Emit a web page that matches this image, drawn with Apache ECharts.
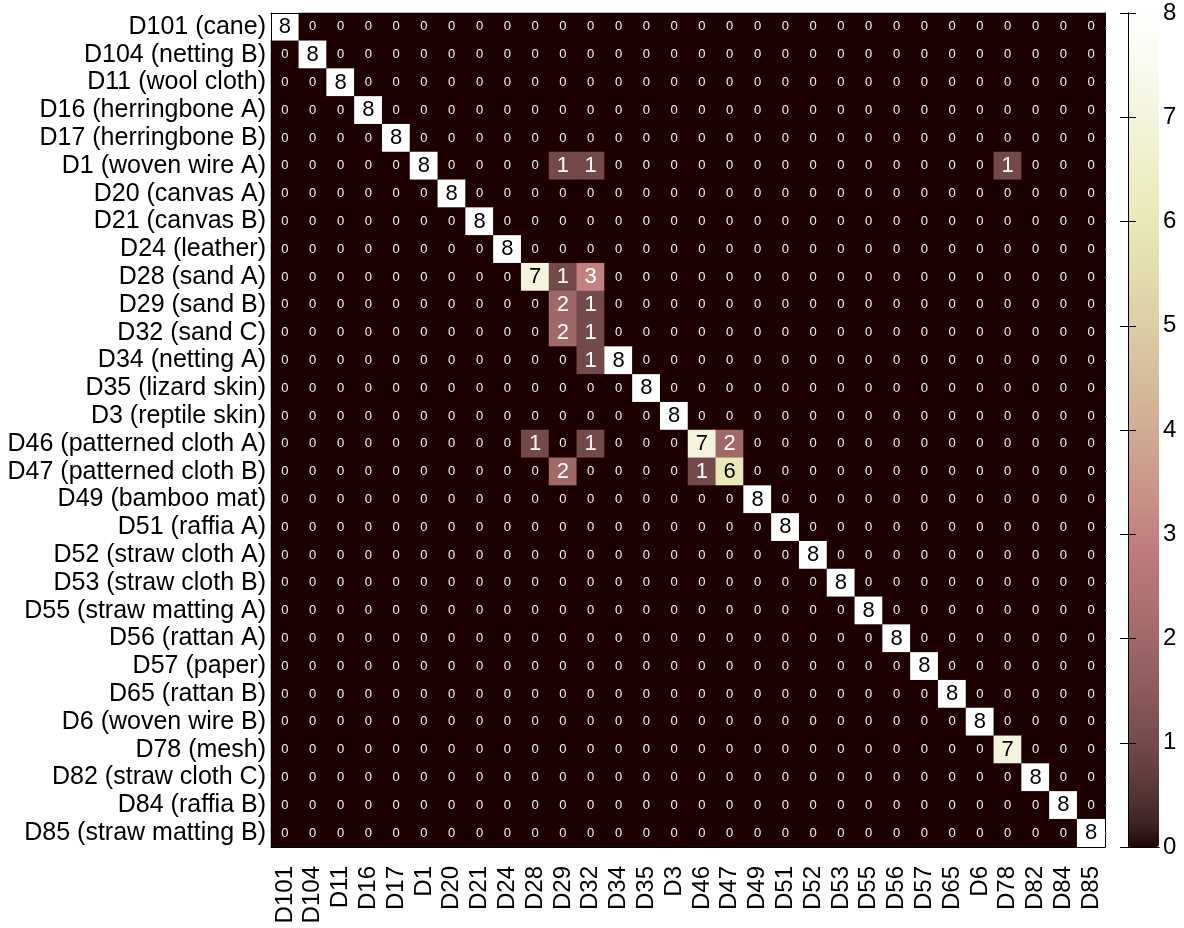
<!DOCTYPE html>
<html>
<head>
<meta charset="utf-8">
<script src="https://cdn.jsdelivr.net/npm/echarts@6/dist/echarts.min.js"></script>
<style>
  html, body { margin: 0; padding: 0; background: #fff; }
  #chart { width: 1184px; height: 928px; }
</style>
</head>
<body>
<div id="chart"></div>
<script>
const rowLabels = [
  'D101 (cane)', 'D104 (netting B)', 'D11 (wool cloth)', 'D16 (herringbone A)', 'D17 (herringbone B)',
  'D1 (woven wire A)', 'D20 (canvas A)', 'D21 (canvas B)', 'D24 (leather)', 'D28 (sand A)',
  'D29 (sand B)', 'D32 (sand C)', 'D34 (netting A)', 'D35 (lizard skin)', 'D3 (reptile skin)',
  'D46 (patterned cloth A)', 'D47 (patterned cloth B)', 'D49 (bamboo mat)', 'D51 (raffia A)', 'D52 (straw cloth A)',
  'D53 (straw cloth B)', 'D55 (straw matting A)', 'D56 (rattan A)', 'D57 (paper)', 'D65 (rattan B)',
  'D6 (woven wire B)', 'D78 (mesh)', 'D82 (straw cloth C)', 'D84 (raffia B)', 'D85 (straw matting B)'
];
const colLabels = [
  'D101', 'D104', 'D11', 'D16', 'D17', 'D1', 'D20', 'D21', 'D24', 'D28',
  'D29', 'D32', 'D34', 'D35', 'D3', 'D46', 'D47', 'D49', 'D51', 'D52',
  'D53', 'D55', 'D56', 'D57', 'D65', 'D6', 'D78', 'D82', 'D84', 'D85'
];
const colorbarTicks = [0, 1, 2, 3, 4, 5, 6, 7, 8];
const confusion = [
  [8,0,0,0,0,0,0,0,0,0, 0,0,0,0,0,0,0,0,0,0, 0,0,0,0,0,0,0,0,0,0],
  [0,8,0,0,0,0,0,0,0,0, 0,0,0,0,0,0,0,0,0,0, 0,0,0,0,0,0,0,0,0,0],
  [0,0,8,0,0,0,0,0,0,0, 0,0,0,0,0,0,0,0,0,0, 0,0,0,0,0,0,0,0,0,0],
  [0,0,0,8,0,0,0,0,0,0, 0,0,0,0,0,0,0,0,0,0, 0,0,0,0,0,0,0,0,0,0],
  [0,0,0,0,8,0,0,0,0,0, 0,0,0,0,0,0,0,0,0,0, 0,0,0,0,0,0,0,0,0,0],
  [0,0,0,0,0,8,0,0,0,0, 1,1,0,0,0,0,0,0,0,0, 0,0,0,0,0,0,1,0,0,0],
  [0,0,0,0,0,0,8,0,0,0, 0,0,0,0,0,0,0,0,0,0, 0,0,0,0,0,0,0,0,0,0],
  [0,0,0,0,0,0,0,8,0,0, 0,0,0,0,0,0,0,0,0,0, 0,0,0,0,0,0,0,0,0,0],
  [0,0,0,0,0,0,0,0,8,0, 0,0,0,0,0,0,0,0,0,0, 0,0,0,0,0,0,0,0,0,0],
  [0,0,0,0,0,0,0,0,0,7, 1,3,0,0,0,0,0,0,0,0, 0,0,0,0,0,0,0,0,0,0],
  [0,0,0,0,0,0,0,0,0,0, 2,1,0,0,0,0,0,0,0,0, 0,0,0,0,0,0,0,0,0,0],
  [0,0,0,0,0,0,0,0,0,0, 2,1,0,0,0,0,0,0,0,0, 0,0,0,0,0,0,0,0,0,0],
  [0,0,0,0,0,0,0,0,0,0, 0,1,8,0,0,0,0,0,0,0, 0,0,0,0,0,0,0,0,0,0],
  [0,0,0,0,0,0,0,0,0,0, 0,0,0,8,0,0,0,0,0,0, 0,0,0,0,0,0,0,0,0,0],
  [0,0,0,0,0,0,0,0,0,0, 0,0,0,0,8,0,0,0,0,0, 0,0,0,0,0,0,0,0,0,0],
  [0,0,0,0,0,0,0,0,0,1, 0,1,0,0,0,7,2,0,0,0, 0,0,0,0,0,0,0,0,0,0],
  [0,0,0,0,0,0,0,0,0,0, 2,0,0,0,0,1,6,0,0,0, 0,0,0,0,0,0,0,0,0,0],
  [0,0,0,0,0,0,0,0,0,0, 0,0,0,0,0,0,0,8,0,0, 0,0,0,0,0,0,0,0,0,0],
  [0,0,0,0,0,0,0,0,0,0, 0,0,0,0,0,0,0,0,8,0, 0,0,0,0,0,0,0,0,0,0],
  [0,0,0,0,0,0,0,0,0,0, 0,0,0,0,0,0,0,0,0,8, 0,0,0,0,0,0,0,0,0,0],
  [0,0,0,0,0,0,0,0,0,0, 0,0,0,0,0,0,0,0,0,0, 8,0,0,0,0,0,0,0,0,0],
  [0,0,0,0,0,0,0,0,0,0, 0,0,0,0,0,0,0,0,0,0, 0,8,0,0,0,0,0,0,0,0],
  [0,0,0,0,0,0,0,0,0,0, 0,0,0,0,0,0,0,0,0,0, 0,0,8,0,0,0,0,0,0,0],
  [0,0,0,0,0,0,0,0,0,0, 0,0,0,0,0,0,0,0,0,0, 0,0,0,8,0,0,0,0,0,0],
  [0,0,0,0,0,0,0,0,0,0, 0,0,0,0,0,0,0,0,0,0, 0,0,0,0,8,0,0,0,0,0],
  [0,0,0,0,0,0,0,0,0,0, 0,0,0,0,0,0,0,0,0,0, 0,0,0,0,0,8,0,0,0,0],
  [0,0,0,0,0,0,0,0,0,0, 0,0,0,0,0,0,0,0,0,0, 0,0,0,0,0,0,7,0,0,0],
  [0,0,0,0,0,0,0,0,0,0, 0,0,0,0,0,0,0,0,0,0, 0,0,0,0,0,0,0,8,0,0],
  [0,0,0,0,0,0,0,0,0,0, 0,0,0,0,0,0,0,0,0,0, 0,0,0,0,0,0,0,0,8,0],
  [0,0,0,0,0,0,0,0,0,0, 0,0,0,0,0,0,0,0,0,0, 0,0,0,0,0,0,0,0,0,8]
];

// MATLAB-style "pink" colormap (64 levels)
function pinkMap(m) {
  const n = Math.floor(3 / 8 * m);
  const out = [];
  for (let i = 1; i <= m; i++) {
    const g = (i - 1) / (m - 1);
    const hr = i <= n ? i / n : 1;
    const hg = i <= n ? 0 : (i <= 2 * n ? (i - n) / n : 1);
    const hb = i <= 2 * n ? 0 : (i - 2 * n) / (m - 2 * n);
    const c = [hr, hg, hb].map(h => Math.round(255 * Math.sqrt((2 * g + h) / 3)));
    out.push('rgb(' + c.join(',') + ')');
  }
  return out;
}
const pink = pinkMap(64);

const cells = [];
confusion.forEach((row, r) => row.forEach((v, c) => cells.push([c, r, v])));

const FONT = '"Liberation Sans", Arial, Helvetica, sans-serif';
const G = { left: 271, top: 13, width: 834, height: 834 };
const CB = { left: 1128, top: 13, width: 31, height: 834 };

const chart = echarts.init(document.getElementById('chart'), null, { renderer: 'canvas' });
chart.setOption({
  animation: false,
  backgroundColor: '#fff',
  textStyle: { fontFamily: FONT },
  grid: [
    { left: G.left, top: G.top, width: G.width, height: G.height, containLabel: false,
      show: true, backgroundColor: pink[0], borderWidth: 0 },
    { left: CB.left, top: CB.top, width: CB.width, height: CB.height, containLabel: false }
  ],
  xAxis: [
    {
      type: 'category', data: colLabels, gridIndex: 0, position: 'bottom',
      axisLine: { show: true, lineStyle: { color: '#000', width: 1 } },
      axisTick: { show: false },
      splitLine: { show: false },
      axisLabel: { rotate: 90, fontSize: 24, color: '#000', margin: 19, interval: 0, fontFamily: FONT },
      z: 10
    },
    {
      type: 'category', data: colLabels, gridIndex: 0, position: 'top',
      axisLine: { show: true, lineStyle: { color: '#000', width: 1 } },
      axisTick: { show: false }, axisLabel: { show: false }, splitLine: { show: false },
      z: 10
    },
    {
      type: 'value', gridIndex: 1, min: 0, max: 1, position: 'bottom',
      axisLine: { show: true, lineStyle: { color: '#000', width: 1 } },
      axisTick: { show: false }, axisLabel: { show: false }, splitLine: { show: false },
      z: 10
    },
    {
      type: 'value', gridIndex: 1, min: 0, max: 1, position: 'top',
      axisLine: { show: true, lineStyle: { color: '#000', width: 1 } },
      axisTick: { show: false }, axisLabel: { show: false }, splitLine: { show: false },
      z: 10
    }
  ],
  yAxis: [
    {
      type: 'category', data: rowLabels, gridIndex: 0, inverse: true, position: 'left',
      axisLine: { show: true, lineStyle: { color: '#000', width: 1 } },
      axisTick: { show: false },
      splitLine: { show: false },
      axisLabel: { fontSize: 25, color: '#000', margin: 5, interval: 0, fontFamily: FONT },
      z: 10
    },
    {
      type: 'category', data: rowLabels, gridIndex: 0, inverse: true, position: 'right',
      axisLine: { show: true, lineStyle: { color: '#000', width: 1 } },
      axisTick: { show: true, alignWithLabel: true, length: 2, lineStyle: { color: '#999' } },
      axisLabel: { show: false }, splitLine: { show: false },
      z: 10
    },
    {
      type: 'value', gridIndex: 1, min: 0, max: 8, interval: 1, position: 'right',
      axisLine: { show: true, lineStyle: { color: '#000', width: 1 } },
      axisTick: { show: true, inside: true, length: 8, lineStyle: { color: '#000' } },
      axisLabel: {
        fontSize: 24, color: '#000', margin: 4, fontFamily: FONT,
        formatter: v => colorbarTicks.includes(v) ? String(v) : ''
      },
      splitLine: { show: false },
      z: 10
    },
    {
      type: 'value', gridIndex: 1, min: 0, max: 8, interval: 1, position: 'left',
      axisLine: { show: true, lineStyle: { color: '#000', width: 1 } },
      axisTick: { show: true, inside: true, length: 8, lineStyle: { color: '#000' } },
      axisLabel: { show: false },
      splitLine: { show: false },
      z: 10
    }
  ],
  visualMap: {
    type: 'continuous',
    min: 0, max: 8,
    seriesIndex: 0,
    calculable: false,
    hoverLink: false,
    show: true,
    orient: 'vertical',
    left: CB.left, top: CB.top,
    itemWidth: CB.width, itemHeight: CB.height,
    padding: 0,
    text: null,
    showLabel: false,
    inRange: { color: pink }
  },
  series: [
    {
      type: 'heatmap',
      xAxisIndex: 0, yAxisIndex: 0,
      data: cells,
      itemStyle: { borderWidth: 0 },
      emphasis: { disabled: true },
      label: {
        show: true,
        fontFamily: FONT,
        formatter: p => {
          const v = p.value[2];
          if (v === 0) return '{z|0}';
          return (v >= 5 ? '{b|' : '{w|') + v + '}';
        },
        rich: {
          z: { fontSize: 13, color: '#f2f2f2', fontFamily: FONT },
          w: { fontSize: 22, color: '#fff', fontFamily: FONT },
          b: { fontSize: 22, color: '#000', fontFamily: FONT }
        }
      }
    }
  ]
});
</script>
</body>
</html>
